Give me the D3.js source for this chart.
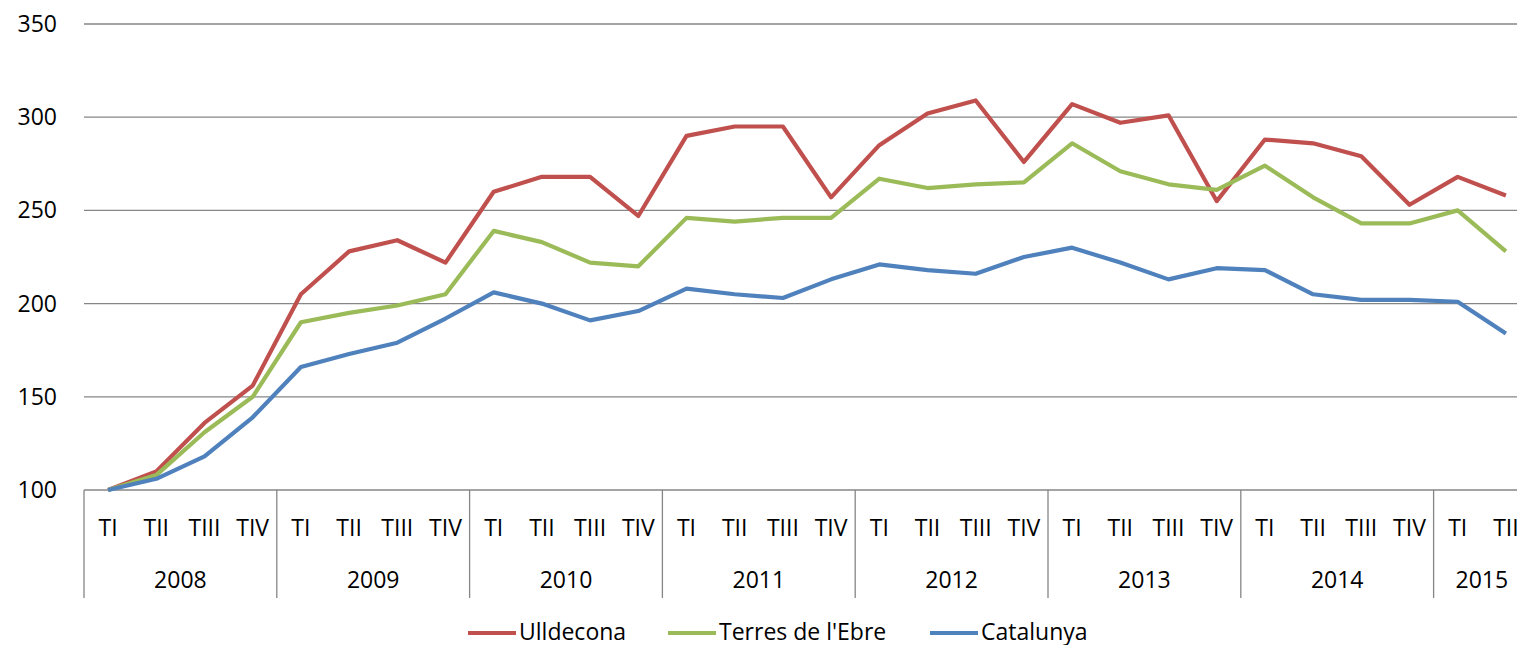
<!DOCTYPE html>
<html>
<head>
<meta charset="utf-8">
<script src="https://cdn.jsdelivr.net/npm/d3@7"></script>
<style>
  body { margin: 0; background: #fff; overflow: hidden; }
  text { font-family: "Open Sans", sans-serif; fill: #000; }
</style>
</head>
<body>
<script>
let width = 1517;
let height = 645;

let plotLeft = 84;
let plotRight = 1530;
let plotTop = 24;
let plotBottom = 490;

const years = ["2008", "2009", "2010", "2011", "2012", "2013", "2014", "2015"];
const quarters = ["TI", "TII", "TIII", "TIV"];
const yTicks = [100, 150, 200, 250, 300, 350];

const ulldecona = [100, 110, 136, 156, 205, 228, 234, 222, 260, 268, 268, 247, 290, 295, 295, 257,
                   285, 302, 309, 276, 307, 297, 301, 255, 288, 286, 279, 253, 268, 258];
const terresEbre = [100, 108, 131, 150, 190, 195, 199, 205, 239, 233, 222, 220, 246, 244, 246, 246,
                    267, 262, 264, 265, 286, 271, 264, 261, 274, 257, 243, 243, 250, 228];
const catalunya = [100, 106, 118, 139, 166, 173, 179, 192, 206, 200, 191, 196, 208, 205, 203, 213,
                   221, 218, 216, 225, 230, 222, 213, 219, 218, 205, 202, 202, 201, 184];

const seriesNames = ["Ulldecona", "Terres de l'Ebre", "Catalunya"];
const seriesColors = ["#C0504D", "#9BBB59", "#4F81BD"];
const seriesValues = [ulldecona, terresEbre, catalunya];

let fontSize = "23px";

// categories: one per quarter, 2015 only up to TII
let cats = [];
years.forEach(y => {
  let nq = y === "2015" ? 2 : 4;
  for (let q = 0; q < nq; q++) cats.push({ year: y, q: quarters[q], key: y + "-" + quarters[q] });
});

let svg = d3.select("body").append("svg")
  .attr("width", width)
  .attr("height", height);

let x = d3.scaleBand()
  .domain(cats.map(d => d.key))
  .range([plotLeft, plotRight]);

let y = d3.scaleLinear()
  .domain([100, 350])
  .range([plotBottom, plotTop]);

// gridlines
svg.append("g")
  .selectAll("line")
  .data(yTicks)
  .join("line")
  .attr("x1", plotLeft)
  .attr("x2", plotRight)
  .attr("y1", d => y(d))
  .attr("y2", d => y(d))
  .style("stroke", "#868686")
  .style("stroke-width", 1.3);

// y labels
svg.append("g")
  .selectAll("text")
  .data(yTicks)
  .join("text")
  .attr("x", 57)
  .attr("y", d => y(d))
  .attr("dy", "0.35em")
  .attr("text-anchor", "end")
  .style("font-size", fontSize)
  .text(d => d);

// category axis: quarter labels
svg.append("g")
  .selectAll("text")
  .data(cats)
  .join("text")
  .attr("x", d => x(d.key) + x.bandwidth() / 2)
  .attr("y", 528)
  .attr("dy", "0.35em")
  .attr("text-anchor", "middle")
  .style("font-size", fontSize)
  .text(d => d.q);

// year groups
let groups = years.map(yr => {
  let c = cats.filter(d => d.year === yr);
  return { year: yr, x0: x(c[0].key), x1: x(c[c.length - 1].key) + x.bandwidth() };
});

svg.append("g")
  .selectAll("text")
  .data(groups)
  .join("text")
  .attr("x", d => (d.x0 + d.x1) / 2)
  .attr("y", 580)
  .attr("dy", "0.35em")
  .attr("text-anchor", "middle")
  .style("font-size", fontSize)
  .text(d => d.year);

svg.append("g")
  .selectAll("line")
  .data(groups.map(d => d.x0).concat([plotRight]))
  .join("line")
  .attr("x1", d => d)
  .attr("x2", d => d)
  .attr("y1", plotBottom)
  .attr("y2", 598)
  .style("stroke", "#868686")
  .style("stroke-width", 1.3);

// lines
let line = d3.line()
  .x((d, i) => x(cats[i].key) + x.bandwidth() / 2)
  .y(d => y(d));

seriesValues.forEach((vals, k) => {
  svg.append("path")
    .datum(vals)
    .attr("d", line)
    .style("fill", "none")
    .style("stroke", seriesColors[k])
    .style("stroke-width", 4.2)
    .style("stroke-linejoin", "round");
});

// legend
let legendX = [468, 668, 930];
let lg = svg.append("g")
  .selectAll("g")
  .data(seriesNames)
  .join("g")
  .attr("transform", (d, i) => `translate(${legendX[i]}, 633)`);

lg.append("line")
  .attr("x1", 0)
  .attr("x2", 48)
  .style("stroke", (d, i) => seriesColors[i])
  .style("stroke-width", 4.2);

lg.append("text")
  .attr("x", 51)
  .attr("dy", "0.32em")
  .style("font-size", fontSize)
  .text(d => d);
</script>
</body>
</html>
